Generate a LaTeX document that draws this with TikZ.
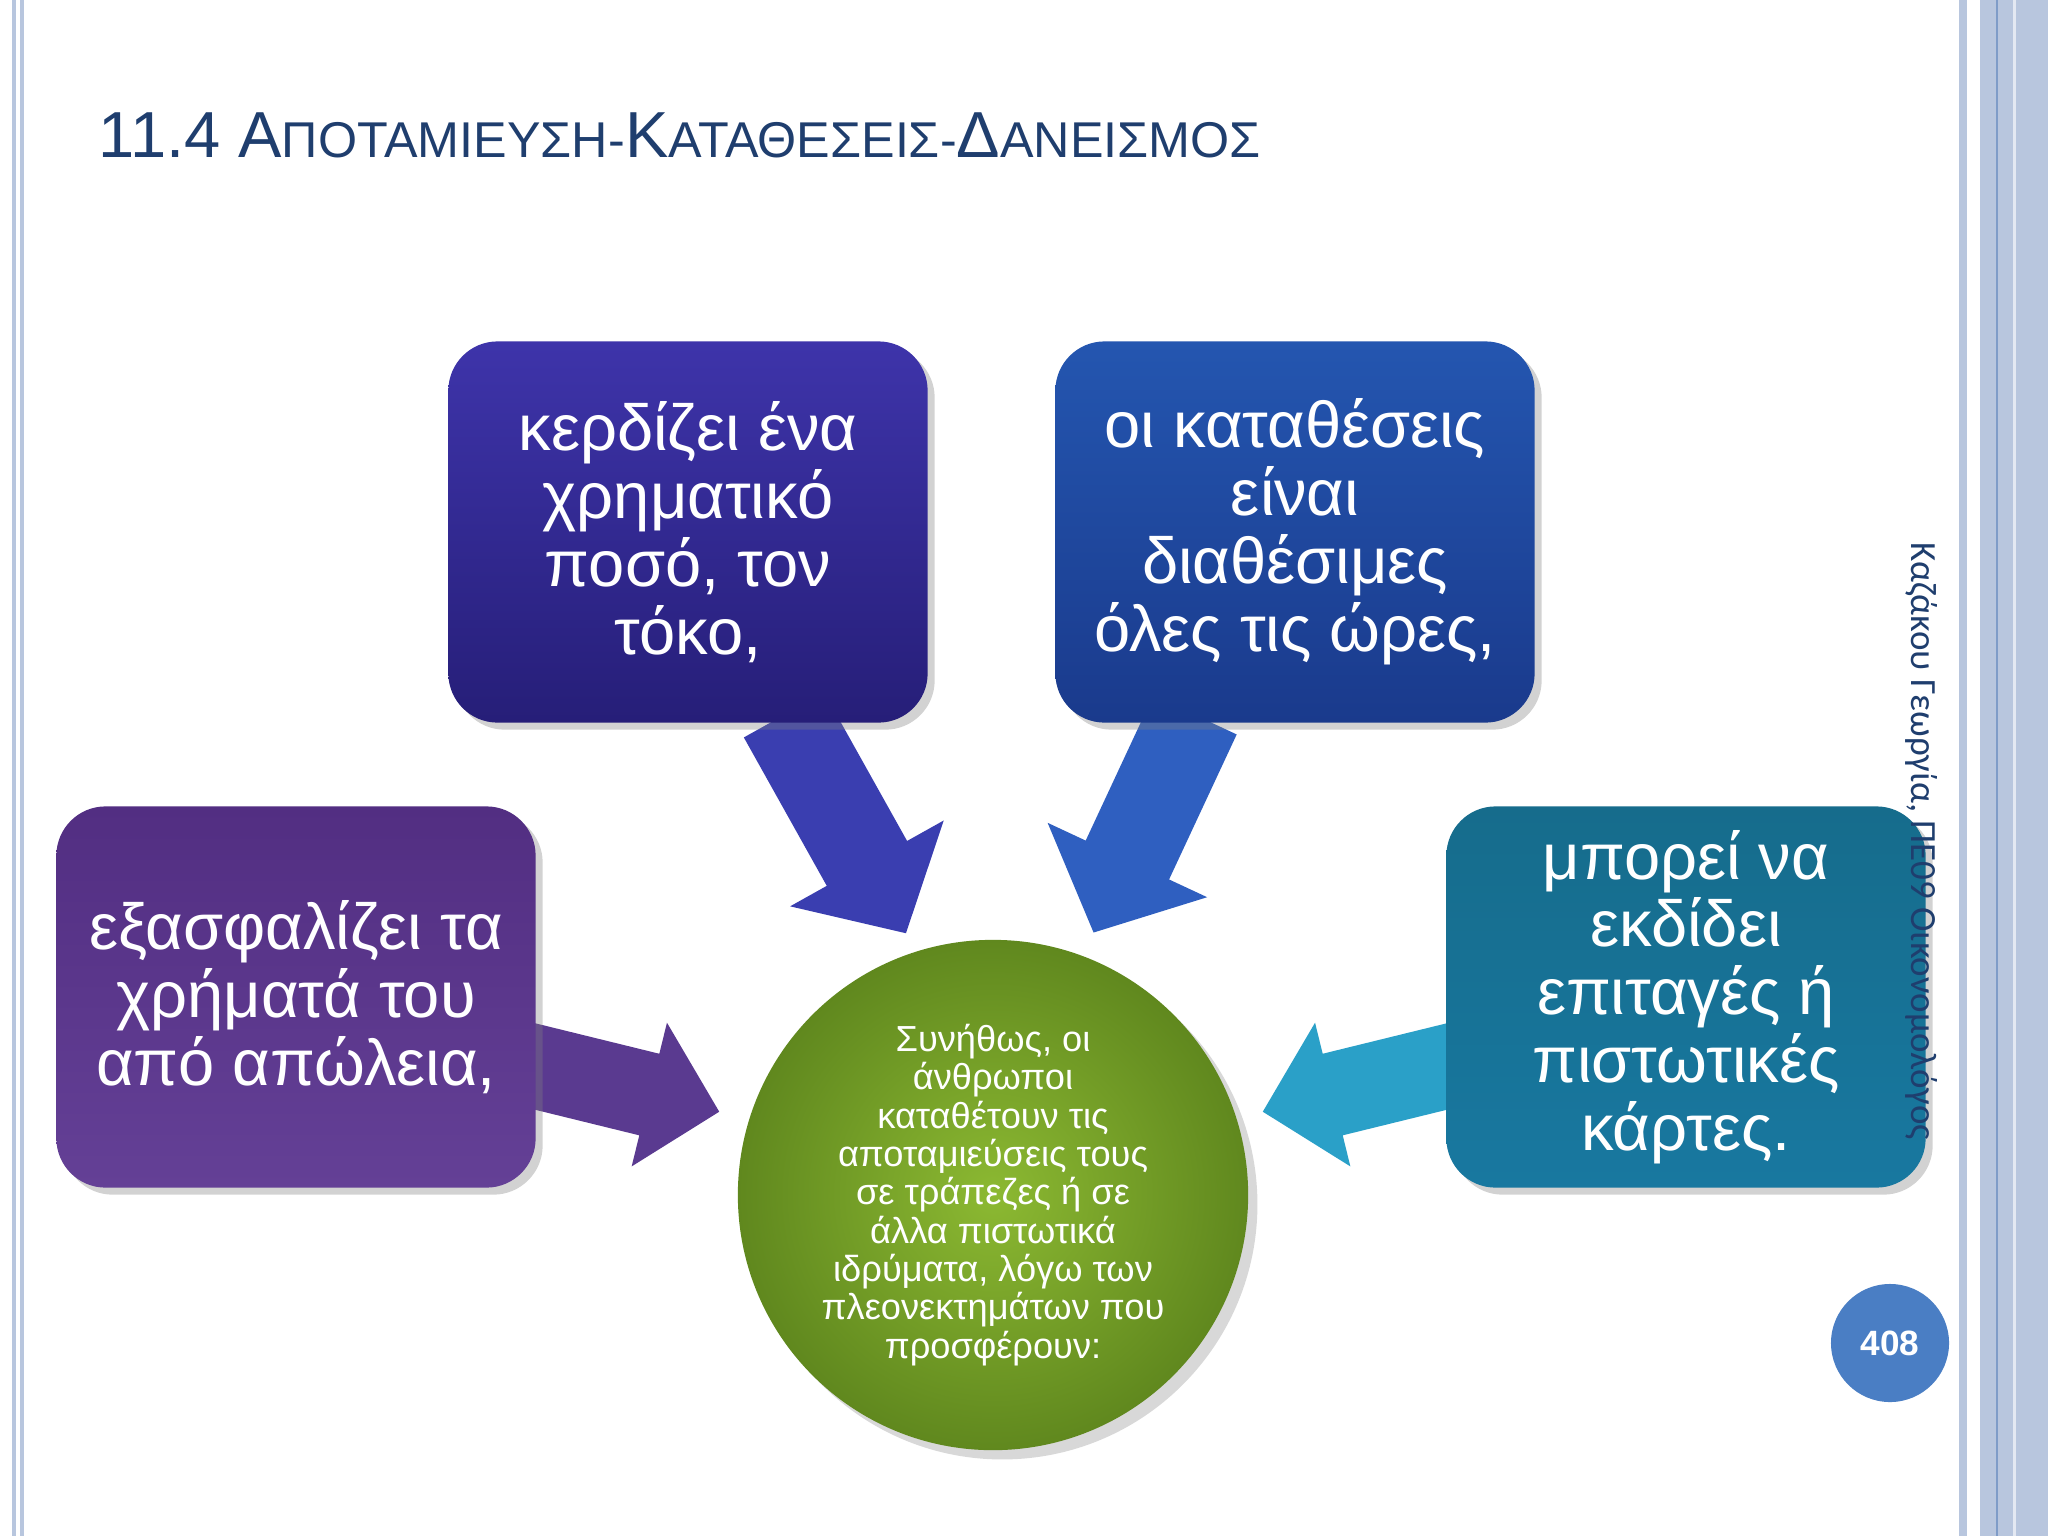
\documentclass[tikz,border=0pt]{standalone}
\usepackage{fontspec}
\setmainfont{Liberation Sans}
\newfontfamily\sidefont{Carlito}
\usetikzlibrary{shadows,calc}
\definecolor{titleblue}{HTML}{1F3E6E}
\definecolor{band}{HTML}{B8C6DE}
\definecolor{bandline}{HTML}{7F9CC8}
\definecolor{arA}{RGB}{58,62,176}
\definecolor{arB}{RGB}{47,95,192}
\definecolor{arC}{RGB}{90,58,144}
\definecolor{arD}{RGB}{42,160,200}
\tikzset{
  box/.style={rounded corners=14pt,minimum width=4.79cm,minimum height=3.81cm,text=white,align=center,font=\fontsize{18.5}{19.3}\selectfont,drop shadow={opacity=0.35,shadow xshift=2pt,shadow yshift=-2pt}},
}
\newcommand{\blockarrow}[7]{%
  \fill[#7,shift={(#1)},rotate=#2] (0,-#4) -- ({#3-#6},-#4) -- ({#3-#6},-#5) -- (#3,0) -- ({#3-#6},#5) -- ({#3-#6},#4) -- (0,#4) -- cycle;}
\begin{document}
\begin{tikzpicture}[x=0.01cm,y=-0.01cm]
\useasboundingbox (0,0) rectangle (2048,1536);
\fill[white] (0,0) rectangle (2048,1536);
% borders
\fill[band] (12,0) rectangle (16,1536);
\fill[band] (20,0) rectangle (24,1536);
\fill[band] (1959,0) rectangle (1967,1536);
\fill[band] (1980,0) rectangle (2048,1536);
\fill[bandline] (1996,0) rectangle (1998,1536);
\fill[white!60!band] (2013,0) rectangle (2016,1536);
% title
\node[anchor=base west,text=titleblue,inner sep=0pt] (title) at (98,157)
 {\fontsize{18.5}{22}\selectfont 11.4 Α\fontsize{14.3}{17}\selectfont ΠΟΤΑΜΙΕΥΣΗ-\fontsize{18.5}{22}\selectfont Κ\fontsize{14.3}{17}\selectfont ΑΤΑΘΕΣΕΙΣ-\fontsize{18.5}{22}\selectfont Δ\fontsize{14.3}{17}\selectfont ΑΝΕΙΣΜΟΣ};
\coordinate (t1) at (784,715);
\coordinate (t2) at (1195,715);
\coordinate (t3) at (525,1064);
\coordinate (t4) at (1457,1064);
\blockarrow{t1}{-60.8}{250}{46}{88}{80}{arA}
\blockarrow{t2}{-115}{240}{46}{88}{80}{arB}
\blockarrow{t3}{-13.8}{200}{42}{74}{72}{arC}
\blockarrow{t4}{-166.2}{200}{42}{74}{72}{arD}
% boxes
\node[box,top color={rgb,255:red,62;green,52;blue,170},bottom color={rgb,255:red,38;green,30;blue,120}] (b1) at (688,532)
 {κερδίζει ένα\\χρηματικό\\ποσό, τον\\τόκο,};
\node[box,top color={rgb,255:red,36;green,86;blue,176},bottom color={rgb,255:red,26;green,58;blue,140}] (b2) at (1295,532)
 {οι καταθέσεις\\είναι\\διαθέσιμες\\όλες τις ώρες,};
\node[box,top color={rgb,255:red,82;green,46;blue,130},bottom color={rgb,255:red,100;green,64;blue,150}] (b3) at (296,997)
 {εξασφαλίζει τα\\χρήματά του\\από απώλεια,};
\node[box,top color={rgb,255:red,22;green,108;blue,140},bottom color={rgb,255:red,24;green,120;blue,160}] (b4) at (1686,997)
 {μπορεί να\\εκδίδει\\επιταγές ή\\πιστωτικές\\κάρτες.};
% circle
\node[circle,minimum size=5.1cm,inner sep=0pt,inner color={rgb,255:red,140;green,185;blue,50},outer color={rgb,255:red,96;green,136;blue,30},drop shadow={opacity=0.3},text=white,align=center,font=\fontsize{10.3}{10.9}\selectfont] (c) at (993,1195)
 {Συνήθως, οι\\άνθρωποι\\καταθέτουν τις\\αποταμιεύσεις τους\\σε τράπεζες ή σε\\άλλα πιστωτικά\\ιδρύματα, λόγω των\\πλεονεκτημάτων που\\προσφέρουν:};
% side text
\node[rotate=-90,anchor=west,text=titleblue,font=\sidefont\fontsize{10.5}{12}\selectfont,inner sep=0pt] (side) at (1922,542) {Καζάκου Γεωργία, ΠΕ09 Οικονομολόγος};
% page number
\node[circle,fill={rgb,255:red,74;green,126;blue,196},minimum size=1.18cm,text=white,font=\bfseries\fontsize{10}{12}\selectfont] (pg) at (1890,1343) {408};
\end{tikzpicture}
\end{document}
